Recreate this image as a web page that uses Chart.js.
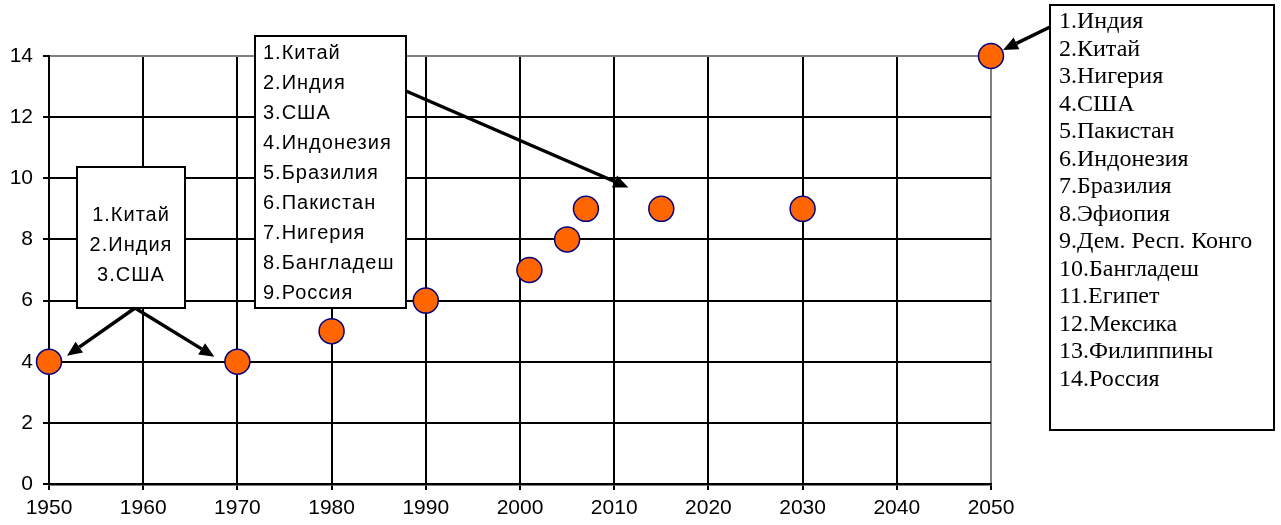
<!DOCTYPE html>
<html>
<head>
<meta charset="utf-8">
<script src="https://cdn.jsdelivr.net/npm/chart.js@4"></script>
<style>
  body { margin: 0; background: #fff; }
  #wrap { width: 1281px; height: 525px; position: relative; }
</style>
</head>
<body>
<div id="wrap"><canvas id="popChart"></canvas></div>
<script>
// Data
const years = [1950, 1970, 1980, 1990, 2001, 2005, 2007, 2015, 2030, 2050];
const counts = [4, 4, 5, 6, 7, 8, 9, 9, 9, 14];
const xTicks = [1950, 1960, 1970, 1980, 1990, 2000, 2010, 2020, 2030, 2040, 2050];
const yTicks = [0, 2, 4, 6, 8, 10, 12, 14];

// Callout texts
const box1Lines = ['1.Китай', '2.Индия', '3.США'];
const box2Lines = ['1.Китай', '2.Индия', '3.США', '4.Индонезия', '5.Бразилия',
    '6.Пакистан', '7.Нигерия', '8.Бангладеш', '9.Россия'];
const box3Lines = ['1.Индия', '2.Китай', '3.Нигерия', '4.США', '5.Пакистан',
    '6.Индонезия', '7.Бразилия', '8.Эфиопия', '9.Дем. Респ. Конго', '10.Бангладеш',
    '11.Египет', '12.Мексика', '13.Филиппины', '14.Россия'];

function drawArrow(c, x1, y1, x2, y2) {
    const ang = Math.atan2(y2 - y1, x2 - x1);
    const len = 15, half = 6.5;
    const bx = x2 - len * Math.cos(ang), by = y2 - len * Math.sin(ang);
    c.beginPath();
    c.moveTo(x1, y1);
    c.lineTo(bx, by);
    c.lineWidth = 3.5;
    c.strokeStyle = '#000';
    c.stroke();
    c.beginPath();
    c.moveTo(x2, y2);
    c.lineTo(bx + half * Math.sin(ang), by - half * Math.cos(ang));
    c.lineTo(bx - half * Math.sin(ang), by + half * Math.cos(ang));
    c.closePath();
    c.fillStyle = '#000';
    c.fill();
}

function drawBox(c, x, y, w, h, lw) {
    c.fillStyle = '#fff';
    c.fillRect(x, y, w, h);
    c.lineWidth = lw;
    c.strokeStyle = '#000';
    c.strokeRect(x, y, w, h);
    c.fillStyle = '#000';
}

const callouts = {
    id: 'callouts',
    afterDraw(chart) {
        const c = chart.ctx;
        const xs = chart.scales.x, ys = chart.scales.y;
        const px = v => xs.getPixelForValue(v);
        const py = v => ys.getPixelForValue(v);
        c.save();
        c.textBaseline = 'middle';

        // box 1 with two arrows
        drawArrow(c, 135, 308, px(years[0]) + 18, py(counts[0]) - 6);
        drawArrow(c, 135, 308, px(years[1]) - 23, py(counts[1]) - 5);
        drawBox(c, 77, 167, 108, 141, 2);
        c.font = '20px "Liberation Sans", Arial, sans-serif';
        c.letterSpacing = '1px';
        c.textAlign = 'center';
        box1Lines.forEach((t, i) => c.fillText(t, 131, 215 + i * 30));

        // box 2
        drawArrow(c, 406, 91, px(2011.5), py(9.7));
        drawBox(c, 255, 36, 151, 272, 2);
        c.textAlign = 'left';
        box2Lines.forEach((t, i) => c.fillText(t, 263, 53 + i * 30));

        // box 3
        drawArrow(c, 1050, 27, px(years[9]) + 12, py(counts[9]) - 6);
        drawBox(c, 1050, 5, 224, 425, 2);
        c.font = '24px "Liberation Serif", "Times New Roman", serif';
        c.letterSpacing = '0px';
        box3Lines.forEach((t, i) => c.fillText(t, 1059, 22 + i * 27.5));

        c.restore();
    }
};

const tickFont = { family: '"Liberation Sans", Arial, sans-serif', size: 21 };

new Chart(document.getElementById('popChart'), {
    type: 'scatter',
    data: {
        datasets: [{
            data: years.map((y, i) => ({ x: y, y: counts[i] })),
            backgroundColor: '#FF6600',
            borderColor: '#000080',
            borderWidth: 1.5,
            pointRadius: 12.5,
            pointHoverRadius: 12.5,
            clip: false
        }]
    },
    options: {
        responsive: true,
        maintainAspectRatio: false,
        animation: false,
        layout: { padding: { top: 56, right: 290, left: 0, bottom: 0 } },
        plugins: {
            legend: { display: false },
            tooltip: { enabled: false }
        },
        scales: {
            x: {
                type: 'linear',
                min: xTicks[0],
                max: xTicks[xTicks.length - 1],
                afterBuildTicks: s => { s.ticks = xTicks.map(v => ({ value: v })); },
                afterFit: s => { s.height = 41; },
                ticks: {
                    color: '#000',
                    font: tickFont,
                    padding: 6,
                    maxRotation: 0,
                    callback: v => String(v)
                },
                grid: {
                    color: ctx => ctx.tick && ctx.tick.value === 2050 ? '#808080' : '#000',
                    lineWidth: 2,
                    tickLength: 6,
                    tickColor: '#000'
                },
                border: { color: '#000', width: 2.5 }
            },
            y: {
                min: yTicks[0],
                max: yTicks[yTicks.length - 1],
                afterBuildTicks: s => { s.ticks = yTicks.map(v => ({ value: v })); },
                afterFit: s => { s.width = 49; },
                ticks: {
                    color: '#000',
                    font: tickFont,
                    padding: 10,
                    callback: v => String(v)
                },
                grid: {
                    color: ctx => ctx.tick && ctx.tick.value === 14 ? '#808080' : '#000',
                    lineWidth: 2,
                    tickLength: 6,
                    tickColor: '#000'
                },
                border: { color: '#000', width: 2 }
            }
        }
    },
    plugins: [callouts]
});
</script>
</body>
</html>
